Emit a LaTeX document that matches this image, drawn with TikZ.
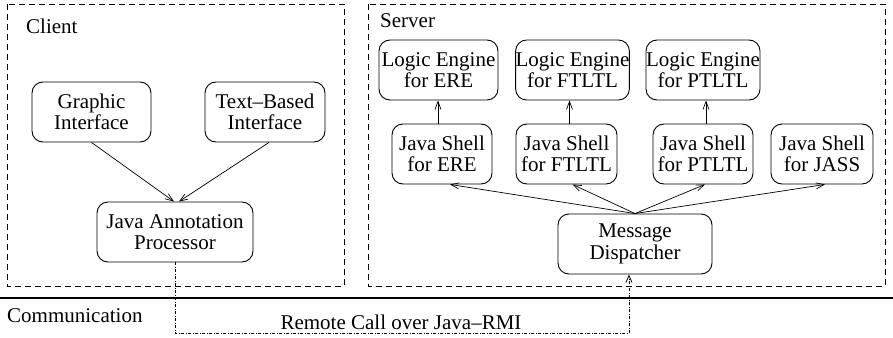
\documentclass[tikz,border=0pt]{standalone}
\usepackage{fontspec}
\setmainfont{Liberation Serif}
\usetikzlibrary{arrows.meta}
\begin{document}
\begin{tikzpicture}[x=1pt,y=-1pt,
  every node/.style={font=\fontsize{21}{21.5}\selectfont},
  box/.style={draw,rounded corners=11pt,align=center,inner sep=0pt,line width=0.9pt},
  region/.style={draw,dash pattern=on 6pt off 4pt,line width=0.8pt},
  arr/.style={-{Straight Barb[length=8pt,width=6pt]},line width=0.7pt},
  dd/.style={dash pattern=on 3pt off 1.5pt on 1pt off 1.5pt,line width=0.8pt},
  lbl/.style={inner sep=0pt}]
\useasboundingbox (0,0) rectangle (893,337);
% regions
\draw[region] (7,4) rectangle (344,286);
\draw[region] (368,4) rectangle (885,286);
\draw[line width=1.1pt] (0,298) -- (893,298);
\node[lbl,anchor=base west] (client) at (26,34) {Client};
\node[lbl,anchor=base west] (server) at (380,28) {Server};
\node[lbl,anchor=base west] (comm) at (7,322) {Communication};
% client nodes
\node[box,minimum width=119pt,minimum height=60pt] (gi) at (91.5,112) {Graphic\\Interface};
\node[box,minimum width=120pt,minimum height=60pt] (tb) at (265,112) {Text--Based\\Interface};
\node[box,minimum width=156pt,minimum height=60pt] (jap) at (175,232) {Java Annotation\\Processor};
% server nodes
\node[box,minimum width=119pt,minimum height=60pt] (le1) at (438.5,70) {Logic Engine\\for ERE};
\node[box,minimum width=113pt,minimum height=60pt] (le2) at (572.5,70) {Logic Engine\\for FTLTL};
\node[box,minimum width=114pt,minimum height=60pt] (le3) at (703,70) {Logic Engine\\for PTLTL};
\node[box,minimum width=100pt,minimum height=60pt] (js1) at (442,154) {Java Shell\\for ERE};
\node[box,minimum width=101pt,minimum height=60pt] (js2) at (566.5,154) {Java Shell\\for FTLTL};
\node[box,minimum width=100pt,minimum height=60pt] (js3) at (703,154) {Java Shell\\for PTLTL};
\node[box,minimum width=102pt,minimum height=60pt] (js4) at (822,154) {Java Shell\\for JASS};
\node[box,minimum width=154pt,minimum height=60pt] (md) at (635,244) {Message\\Dispatcher};
% client arrows
\draw[arr] (gi.south) -- ([xshift=-1pt]jap.north);
\draw[arr] ([xshift=4pt]tb.south) -- ([xshift=4pt]jap.north);
% server arrows
\draw[arr] ([xshift=-4pt]js1.north) -- ([xshift=-4pt]js1.north |- le1.south);
\draw[arr] ([xshift=3pt]js2.north) -- ([xshift=3pt]js2.north |- le2.south);
\draw[arr] ([xshift=3pt]js3.north) -- ([xshift=3pt]js3.north |- le3.south);
\draw[arr] (md.north) -- ([xshift=8pt]js1.south);
\draw[arr] (md.north) -- ([xshift=6pt]js2.south);
\draw[arr] (md.north) -- ([xshift=2pt]js3.south);
\draw[arr] (md.north) -- ([xshift=3pt]js4.south);
% remote call
\coordinate (rmi) at (629,333);
\draw[dd] (jap.south) |- (rmi);
\draw[dd,-{Straight Barb[length=7pt,width=6pt]}] (rmi) -- (rmi |- md.south);
\node[lbl,anchor=base] (rmilbl) at (401,329) {Remote Call over Java--RMI};
\end{tikzpicture}
\end{document}
